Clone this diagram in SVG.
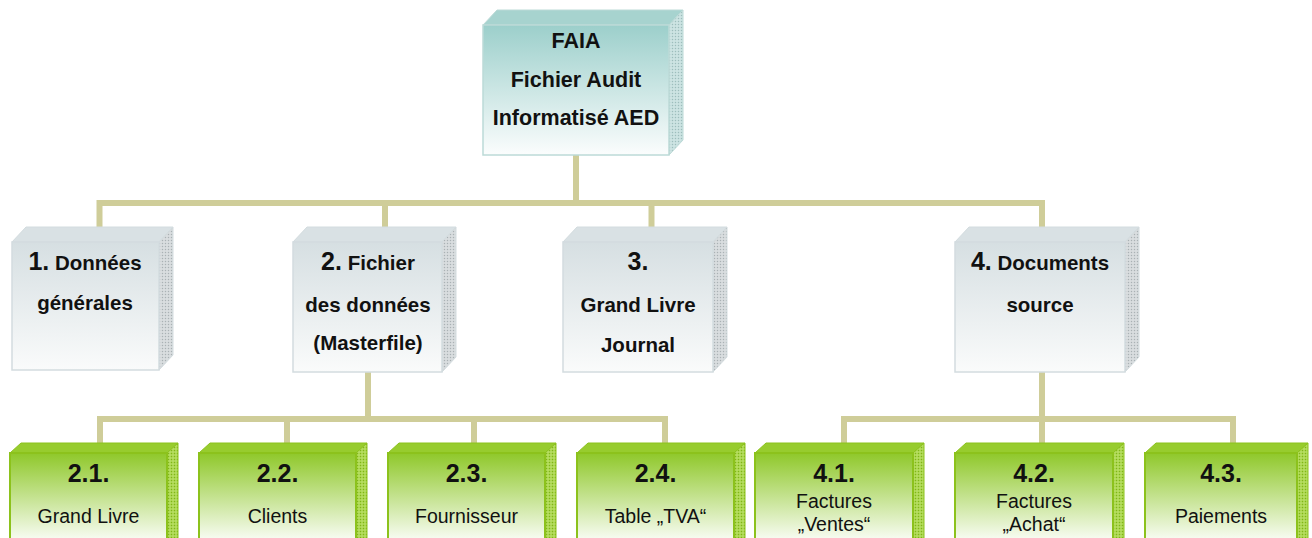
<svg xmlns="http://www.w3.org/2000/svg" width="1312" height="538" viewBox="0 0 1312 538">
<defs>
<linearGradient id="gTeal" x1="0" y1="0" x2="0" y2="1"><stop offset="0" stop-color="#9ccfcb"/><stop offset="1" stop-color="#fbfdfd"/></linearGradient>
<linearGradient id="gGrey" x1="0" y1="0" x2="0" y2="1"><stop offset="0" stop-color="#d6dfe2"/><stop offset="1" stop-color="#fafbfb"/></linearGradient>
<linearGradient id="gGreen" x1="0" y1="0" x2="0" y2="1"><stop offset="0" stop-color="#8fc82a"/><stop offset="0.85" stop-color="#f6fbef"/><stop offset="1" stop-color="#ffffff"/></linearGradient>
<pattern id="pTeal" width="3" height="3" patternUnits="userSpaceOnUse"><rect width="3" height="3" fill="#c4dedd"/><rect width="1" height="1" fill="#9fbcbb"/><rect x="1.5" y="1.5" width="1" height="1" fill="#e8f2f2"/></pattern>
<pattern id="pGrey" width="3" height="3" patternUnits="userSpaceOnUse"><rect width="3" height="3" fill="#d2d7d9"/><rect width="1" height="1" fill="#aab1b4"/><rect x="1.5" y="1.5" width="1" height="1" fill="#eef0f1"/></pattern>
<pattern id="pGreen" width="3" height="3" patternUnits="userSpaceOnUse"><rect width="3" height="3" fill="#a9d64a"/><rect width="1" height="1" fill="#7fb21c"/><rect x="1.5" y="1.5" width="1" height="1" fill="#d4eda0"/></pattern>
</defs>
<style>
.conn{fill:none;stroke:#cfcd99;stroke-width:6;stroke-linejoin:miter;stroke-linecap:butt}
.tf{fill:url(#gTeal);stroke:#bcdad7;stroke-width:1.5}
.tb{fill:#a7d3cf;stroke:#bcdad7;stroke-width:1}
.ts{fill:url(#pTeal);stroke:#bcdad7;stroke-width:1}
.gf{fill:url(#gGrey);stroke:#d3dcdf;stroke-width:1.5}
.gb{fill:#d9e1e4;stroke:#d3dcdf;stroke-width:1}
.gs{fill:url(#pGrey);stroke:#d3dcdf;stroke-width:1}
.nf{fill:url(#gGreen);stroke:#8cc21c;stroke-width:2}
.nb{fill:#97cc2e;stroke:#8cc21c;stroke-width:1}
.ns{fill:url(#pGreen);stroke:#8cc21c;stroke-width:1}
text{font-family:"Liberation Sans","Arial",sans-serif;fill:#111;text-anchor:middle}
.b19{font-weight:bold;font-size:21.5px}
.b18{font-weight:bold;font-size:20.5px}
.big{font-weight:bold;font-size:25px}
.r18{font-size:19.5px}
</style>
<g id="connectors">
<path class="conn" d="M576,155 V203"/>
<path class="conn" d="M99.5,227 V203 H1042 V227"/>
<path class="conn" d="M385,203 V227"/>
<path class="conn" d="M651.5,203 V227"/>
<path class="conn" d="M368,372 V419"/>
<path class="conn" d="M100,443 V419 H665 V443"/>
<path class="conn" d="M287,419 V443"/>
<path class="conn" d="M474,419 V443"/>
<path class="conn" d="M1042,372 V443"/>
<path class="conn" d="M844,443 V419 H1233 V443"/>
</g>
<g id="faia">
<polygon class="tb" points="483,25 497,10 683,10 669,25"/>
<polygon class="ts" points="669,25 683,10 683,140 669,155"/>
<rect class="tf" x="483" y="25" width="186" height="130"/>
<text class="b19" x="576" y="48">FAIA</text>
<text class="b19" x="576" y="87">Fichier Audit</text>
<text class="b19" x="576" y="125">Informatisé AED</text>
</g>
<g id="n1">
<polygon class="gb" points="12,242 26,227 173,227 159,242"/>
<polygon class="gs" points="159,242 173,227 173,355 159,370"/>
<rect class="gf" x="12" y="242" width="147" height="128"/>
<text x="85" y="270"><tspan class="big">1.</tspan><tspan class="b18"> Données</tspan></text>
<text class="b18" x="85" y="310">générales</text>
</g>
<g id="n2">
<polygon class="gb" points="293,242 307,227 456,227 442,242"/>
<polygon class="gs" points="442,242 456,227 456,357 442,372"/>
<rect class="gf" x="293" y="242" width="149" height="130"/>
<text x="368" y="270"><tspan class="big">2.</tspan><tspan class="b18"> Fichier</tspan></text>
<text class="b18" x="368" y="312">des données</text>
<text class="b18" x="368" y="350">(Masterfile)</text>
</g>
<g id="n3">
<polygon class="gb" points="563,242 577,227 727,227 713,242"/>
<polygon class="gs" points="713,242 727,227 727,357 713,372"/>
<rect class="gf" x="563" y="242" width="150" height="130"/>
<text class="big" x="638" y="270">3.</text>
<text class="b18" x="638" y="312">Grand Livre</text>
<text class="b18" x="638" y="352">Journal</text>
</g>
<g id="n4">
<polygon class="gb" points="955,242 969,227 1139,227 1125,242"/>
<polygon class="gs" points="1125,242 1139,227 1139,357 1125,372"/>
<rect class="gf" x="955" y="242" width="170" height="130"/>
<text x="1040" y="270"><tspan class="big">4.</tspan><tspan class="b18"> Documents</tspan></text>
<text class="b18" x="1040" y="312">source</text>
</g>
<g id="n21">
<polygon class="nb" points="10,453 21,443 178,443 167,453"/>
<polygon class="ns" points="167,453 178,443 178,545 167,555"/>
<rect class="nf" x="10" y="453" width="157" height="100"/>
<text class="big" x="88.5" y="482">2.1.</text>
<text class="r18" x="88.5" y="523">Grand Livre</text>
</g>
<g id="n22">
<polygon class="nb" points="199,453 210,443 367,443 356,453"/>
<polygon class="ns" points="356,453 367,443 367,545 356,555"/>
<rect class="nf" x="199" y="453" width="157" height="100"/>
<text class="big" x="277.5" y="482">2.2.</text>
<text class="r18" x="277.5" y="523">Clients</text>
</g>
<g id="n23">
<polygon class="nb" points="388,453 399,443 556,443 545,453"/>
<polygon class="ns" points="545,453 556,443 556,545 545,555"/>
<rect class="nf" x="388" y="453" width="157" height="100"/>
<text class="big" x="466.5" y="482">2.3.</text>
<text class="r18" x="466.5" y="523">Fournisseur</text>
</g>
<g id="n24">
<polygon class="nb" points="577,453 588,443 745,443 734,453"/>
<polygon class="ns" points="734,453 745,443 745,545 734,555"/>
<rect class="nf" x="577" y="453" width="157" height="100"/>
<text class="big" x="655.5" y="482">2.4.</text>
<text class="r18" x="655.5" y="523">Table „TVA“</text>
</g>
<g id="n41">
<polygon class="nb" points="755,453 766,443 924,443 913,453"/>
<polygon class="ns" points="913,453 924,443 924,545 913,555"/>
<rect class="nf" x="755" y="453" width="158" height="100"/>
<text class="big" x="834" y="482">4.1.</text>
<text class="r18" x="834" y="508">Factures</text>
<text class="r18" x="834" y="531">„Ventes“</text>
</g>
<g id="n42">
<polygon class="nb" points="955,453 966,443 1124,443 1113,453"/>
<polygon class="ns" points="1113,453 1124,443 1124,545 1113,555"/>
<rect class="nf" x="955" y="453" width="158" height="100"/>
<text class="big" x="1034" y="482">4.2.</text>
<text class="r18" x="1034" y="508">Factures</text>
<text class="r18" x="1034" y="531">„Achat“</text>
</g>
<g id="n43">
<polygon class="nb" points="1145,453 1156,443 1308,443 1297,453"/>
<polygon class="ns" points="1297,453 1308,443 1308,545 1297,555"/>
<rect class="nf" x="1145" y="453" width="152" height="100"/>
<text class="big" x="1221" y="482">4.3.</text>
<text class="r18" x="1221" y="523">Paiements</text>
</g>
</svg>
